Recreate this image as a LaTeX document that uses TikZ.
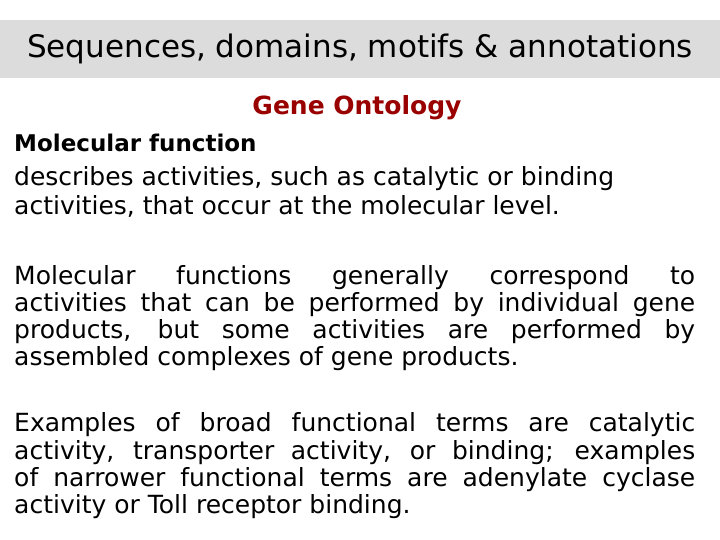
\documentclass[tikz,border=0pt]{standalone}
\usepackage{fontspec}
\setmainfont{DejaVu Sans}
\definecolor{titlegray}{HTML}{DCDCDC}
\definecolor{gored}{HTML}{990000}
\tikzset{
  bodyline/.style={anchor=west,inner sep=0pt,font=\fontsize{25}{28}\selectfont},
  just/.style={bodyline},
}
\newcommand{\jl}[1]{\makebox[681pt][s]{#1}}
\begin{document}
\begin{tikzpicture}[x=1pt,y=-1pt]
\useasboundingbox (0,0) rectangle (720,540);
\fill[titlegray] (0,20) rectangle (720,78);
\node[inner sep=0pt,font=\fontsize{31}{34}\selectfont] (title) at (360,49) {Sequences, domains, motifs \& annotations};
\node[inner sep=0pt,text=gored,font=\fontsize{25}{28}\selectfont\bfseries] (go) at (357,108) {Gene Ontology};
\node[bodyline,font=\fontsize{23}{26}\selectfont\bfseries] (l1) at (14,143) {Molecular function};
\node[bodyline] (l2) at (14,179) {describes activities, such as catalytic or binding};
\node[bodyline] (l3) at (14,206) {activities, that occur at the molecular level.};
\node[just] (l4) at (14,278) {\jl{Molecular functions generally correspond to}};
\node[just] (l5) at (14,305) {\jl{activities that can be performed by individual gene}};
\node[just] (l6) at (14,332) {\jl{products, but some activities are performed by}};
\node[bodyline] (l7) at (14,359) {assembled complexes of gene products.};
\node[just] (l8) at (14,425) {\jl{Examples of broad functional terms are catalytic}};
\node[just] (l9) at (14,453) {\jl{activity, transporter activity, or binding; examples}};
\node[just] (l10) at (14,480) {\jl{of narrower functional terms are adenylate cyclase}};
\node[bodyline] (l11) at (14,507) {activity or Toll receptor binding.};
\end{tikzpicture}
\end{document}
